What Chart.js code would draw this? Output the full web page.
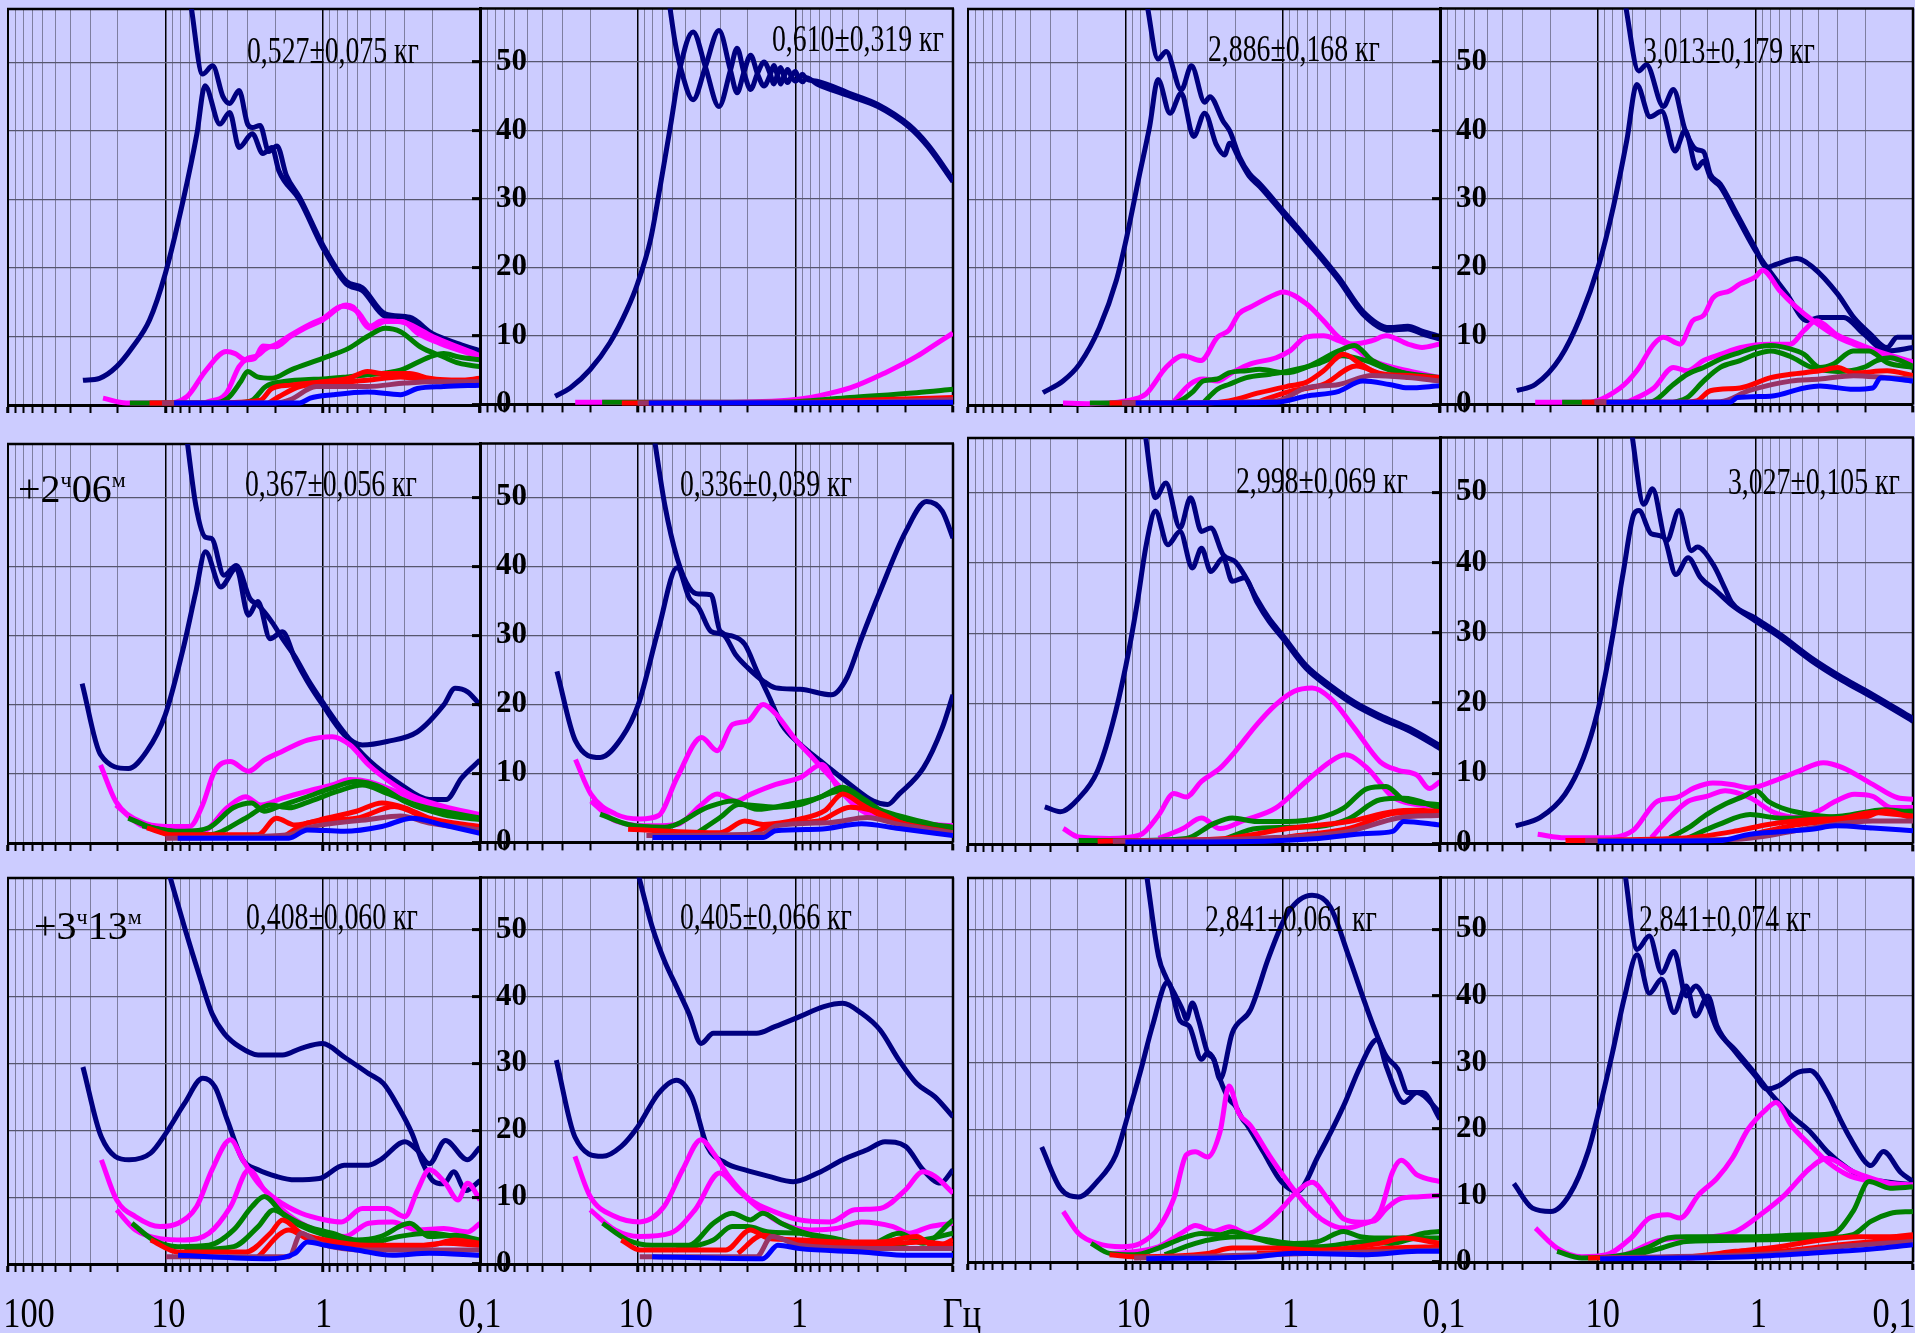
<!DOCTYPE html>
<html><head><meta charset="utf-8">
<script src="https://cdn.jsdelivr.net/npm/chart.js@4.4.0/dist/chart.umd.min.js"></script>
<style>
html,body{margin:0;padding:0;background:#CCCCFF;width:1915px;height:1333px;overflow:hidden;position:relative;}
.panel{position:absolute;}
.ann{position:absolute;font-family:'Liberation Serif','Times New Roman',serif;font-size:38px;line-height:1;color:#000;white-space:nowrap;transform-origin:0 0;transform:scaleX(0.73);}
.tag{position:absolute;font-family:'Liberation Serif','Times New Roman',serif;font-size:40px;line-height:1;color:#000;white-space:nowrap;}
.tag sup{font-size:0.55em;vertical-align:0.7em;}
</style></head><body>
<script>
// ---------- axis values ----------
const xTickValues = [0.1,0.2,0.3,0.4,0.5,0.6,0.7,0.8,0.9,1,2,3,4,5,6,7,8,9,10,20,30,40,50,60,70,80,90,100];
const yTickValues = [0,10,20,30,40,50];
const xLabelValues = [100,10,1,0.1];
const xLabels_r3c1 = ['100','10','1','0,1'];
const xLabels_r3c2 = ['','10','1','Гц'];
const xLabels_r3c3 = ['','10','1','0,1'];
const xLabels_r3c4 = ['','10','1','0,1'];
const annotations = ['0,527±0,075 кг','0,610±0,319 кг','2,886±0,168 кг','3,013±0,179 кг',
                     '0,367±0,056 кг','0,336±0,039 кг','2,998±0,069 кг','3,027±0,105 кг',
                     '0,408±0,060 кг','0,405±0,066 кг','2,841±0,061 кг','2,841±0,074 кг'];

// ---------- series: [frequency Hz, value] ----------
// row 1, col 1
const r1c1_nvA=[[33.4,3.6],[26.2,3.9],[20.4,5.6],[16.1,8.5],[12.6,12.4],[10,19.2],[7.7,29.9],[6.3,39.6],[5.6,46.6],[4.5,41],[3.9,42.7],[3.4,37.6],[2.8,39.6],[2.4,36.7],[2.1,37.6],[1.9,34.2],[1.4,29.9],[1.0,23],[0.71,17.7],[0.56,16.7],[0.4,12.9],[0.28,12.4],[0.2,10],[0.135,8.5],[0.1,7.5]];
const r1c1_nvB=[[6.9,58.6],[5.8,48.3],[5.0,49.5],[4.3,45],[3.9,44],[3.4,45.9],[3.0,41],[2.8,40.5],[2.5,40.8],[2.2,37],[1.95,37.8],[1.7,33.5],[1.4,30.3],[1.0,23.4],[0.71,18.1],[0.56,17.1],[0.4,13.3],[0.28,12.8],[0.2,10.4],[0.135,8.9],[0.1,7.9]];
const r1c1_mgA=[[24.9,1.0],[17.7,0.3],[10,0.3],[7.3,1.2],[5.5,5.1],[4.1,7.8],[3.6,7.5],[3.1,6.6],[2.7,6.8],[2.4,8.6],[2.0,8.5],[1.6,10],[1.3,11.2],[1.0,12.4],[0.71,14.6],[0.64,14.3],[0.5,11.2],[0.4,12.2],[0.31,12.2],[0.25,10.5],[0.18,9.0],[0.1,7.0]];
const r1c1_mgB=[[5.5,0.4],[4.1,1.7],[3.4,5.6],[3.0,6.8],[2.6,7.2],[2.3,8.2],[2.0,8.8],[1.6,10.2],[1.2,11.8],[1.0,12.6],[0.75,14.4],[0.6,13.6],[0.5,11.5],[0.42,12.3],[0.3,12],[0.2,10],[0.1,7.2]];
const r1c1_grA=[[16.8,0.3],[5,0.3],[4,1],[3.3,3.5],[3.0,4.9],[2.6,4.1],[2.1,3.9],[1.6,5.1],[1.0,6.8],[0.68,8.3],[0.52,10],[0.4,11.2],[0.32,10.7],[0.24,8.5],[0.17,7],[0.136,6.1],[0.1,5.6]];
const r1c1_grB=[[3.5,0.3],[2.8,0.7],[2.3,2.7],[1.8,3.4],[1.3,3.7],[1.0,3.8],[0.7,4.1],[0.52,4.4],[0.32,5.1],[0.21,7],[0.17,7.5],[0.136,7],[0.1,6.6]];
const r1c1_rdA=[[12.6,0.3],[5,0.3],[2.5,0.7],[2.1,2.4],[1.6,2.9],[1.0,3.4],[0.68,3.9],[0.52,4.9],[0.42,4.6],[0.28,4.6],[0.21,3.9],[0.135,3.6],[0.1,3.9]];
const r1c1_rdB=[[2.2,0.3],[1.9,1.2],[1.4,2.7],[0.86,3.2],[0.52,3.6],[0.32,4.1],[0.2,3.6],[0.1,3.6]];
const r1c1_mv=[[10.5,0.3],[2,0.3],[1.6,0.8],[1.1,2.7],[0.52,2.7],[0.3,3.2],[0.2,3.4],[0.1,3.4]];
const r1c1_bl=[[8.8,0.3],[1.4,0.3],[1.2,1],[0.86,1.5],[0.52,1.9],[0.32,1.5],[0.25,2.4],[0.17,2.7],[0.1,2.9]];
// row 1, col 2
const r1c2_nvA=[[33.4,1.2],[26.8,2.4],[20,5.1],[15,9],[11.7,13.8],[10,17.7],[8.3,24],[7.2,31.8],[6.2,40.6],[5.36,49.3],[4.45,54.4],[3.72,49.3],[3.05,43.5],[2.58,48.8],[2.34,52],[2.12,48.5],[1.92,46],[1.74,48.3],[1.58,50],[1.44,48.2],[1.37,46.8],[1.3,48.1],[1.24,49.2],[1.18,47.9],[1.12,47],[1.06,47.9],[1.0,48.6],[0.95,47.6],[0.9,47.1],[0.85,47.7],[0.73,46.8],[0.45,45],[0.3,43.5],[0.19,40.5],[0.144,37.6],[0.1,32.5]];
const r1c2_nvB=[[6.3,58.6],[5.8,53],[5.36,49.3],[4.45,44.5],[3.72,49.3],[3.05,54.6],[2.58,48.8],[2.34,45.5],[2.12,48.5],[1.92,51],[1.74,48.3],[1.58,46.5],[1.44,48.2],[1.37,49.5],[1.3,48.1],[1.24,46.8],[1.18,47.9],[1.12,48.9],[1.06,47.9],[1.0,47.2],[0.95,47.6],[0.9,48.2],[0.85,47.5],[0.73,47.2],[0.45,45.4],[0.3,43.8],[0.19,40.8],[0.144,37.9],[0.1,32.8]];
const r1c2_mgA=[[24.9,0.3],[10,0.3],[3,0.3],[1,0.7],[0.73,1.2],[0.45,2.4],[0.27,4.6],[0.17,7],[0.125,9],[0.1,10.4]];
const r1c2_grA=[[16.8,0.3],[2,0.3],[1,0.4],[0.45,1],[0.17,1.7],[0.1,2.2]];
const r1c2_rdA=[[12.6,0.2],[1,0.3],[0.27,0.7],[0.1,1]];
const r1c2_mv=[[10,0.2],[0.3,0.4],[0.1,0.7]];
const r1c2_bl=[[8.5,0.2],[0.1,0.3]];
// row 1, col 3
const r1c3_nvA=[[33.4,1.8],[24.9,3.5],[19.5,6],[14.6,11.3],[11.4,18.2],[10,23.6],[8.1,33.8],[7.0,40.7],[6.2,47.5],[5.2,42.6],[4.41,45.5],[3.68,39.2],[3.13,42.6],[2.64,38],[2.34,36.5],[2.17,38.2],[1.88,35.8],[1.62,33.3],[1.4,31.9],[1.0,28],[0.71,24],[0.44,18.2],[0.31,13.3],[0.21,10.9],[0.16,11.1],[0.13,10.4],[0.1,9.6]];
const r1c3_nvB=[[7.3,58.6],[6.2,50.5],[5.5,51.6],[4.41,46],[3.8,49.5],[3.13,44.2],[2.9,45],[2.4,41.5],[2.17,40],[1.88,36.2],[1.62,33.7],[1.4,32.3],[1.0,28.4],[0.71,24.4],[0.44,18.6],[0.31,13.7],[0.21,11.3],[0.16,11.5],[0.13,10.8],[0.1,10]];
const r1c3_mgA=[[24.9,0.3],[16.8,0.2],[10,0.6],[7.4,1.6],[5.5,5.5],[4.3,7.2],[3.3,6.5],[2.6,9.9],[2.2,10.9],[1.9,13.3],[1.6,14.3],[1.1,16.2],[1.0,16.5],[0.71,14.8],[0.55,12.3],[0.44,9.9],[0.36,8.9],[0.27,9.4],[0.22,10.1],[0.16,8.9],[0.13,8.4],[0.1,8.9]];
const r1c3_mgB=[[5.0,0.3],[3.9,3],[3.2,3.8],[2.6,3.5],[2.1,4.7],[1.6,6],[1.1,6.9],[0.9,7.9],[0.71,9.9],[0.55,10.1],[0.44,9.4],[0.36,8.5],[0.27,6.5],[0.16,5],[0.1,4]];
const r1c3_grA=[[16.8,0.3],[5,0.3],[4.5,0.6],[3.7,2],[3.2,3.5],[2.6,3.8],[2.2,4.7],[1.7,5],[1.4,5.2],[0.95,4.7],[0.71,5.5],[0.44,7.9],[0.35,8.7],[0.27,6.5],[0.16,4.5],[0.1,3.8]];
const r1c3_grB=[[3.2,0.3],[2.6,2.3],[2.2,3],[1.7,4],[1.2,4.5],[0.9,5],[0.6,6],[0.42,7.2],[0.3,6.5],[0.2,5],[0.1,4]];
const r1c3_rdA=[[12.6,0.3],[3,0.3],[2.2,0.6],[1.4,1.8],[0.9,2.8],[0.71,3.3],[0.55,5],[0.41,7.4],[0.32,6],[0.24,4.5],[0.16,4.3],[0.1,3.8]];
const r1c3_rdB=[[1.5,0.3],[0.9,2],[0.55,3],[0.34,5.7],[0.24,4.6],[0.1,4]];
const r1c3_mv=[[10.5,0.3],[1.1,0.6],[0.71,2.5],[0.44,3],[0.27,4.3],[0.16,4],[0.1,3.5]];
const r1c3_bl=[[8.6,0.3],[1.1,0.4],[0.71,1.3],[0.44,2],[0.31,3.5],[0.21,3],[0.16,2.5],[0.1,2.8]];
// row 1, col 4
const r1c4_nvA=[[32.6,2],[24.9,2.9],[17.3,6.8],[12.9,12.7],[9.8,20.5],[7.94,28.9],[6.53,38.6],[5.65,46.7],[4.65,42],[3.92,42.8],[3.23,37],[2.79,40],[2.35,34.5],[2.13,35.5],[1.93,33.2],[1.67,31.8],[1.31,27.4],[1.0,22.5],[0.63,16.1],[0.47,12.2],[0.39,12.7],[0.275,12.7],[0.206,10.3],[0.146,7.8],[0.1,8.3]];
const r1c4_nvB=[[6.7,58.6],[5.5,48.7],[4.9,49.6],[3.83,43.5],[3.31,46],[2.79,40.1],[2.35,37.2],[2.13,36.9],[1.93,33.6],[1.67,32.2],[1.31,27.8],[1.0,22.8],[0.845,20],[0.73,20.5],[0.545,21.3],[0.43,20],[0.3,16.1],[0.238,12.7],[0.187,10.3],[0.146,8.3],[0.126,9.8],[0.1,9.8]];
const r1c4_mgA=[[24.9,0.3],[11.7,0.3],[7.2,2.4],[5.65,4.9],[4.4,8.8],[3.83,9.8],[3.0,8.8],[2.5,12.2],[2.13,13],[1.85,15.6],[1.45,16.6],[1.25,17.6],[1.0,18.6],[0.9,19.6],[0.7,16.6],[0.55,14.2],[0.43,12.2],[0.3,9.8],[0.238,8.8],[0.16,7.3],[0.1,5.9]];
const r1c4_mgB=[[6.5,0.3],[4.4,2.4],[3.31,5.4],[2.7,4.9],[2.13,6.4],[1.67,7.3],[1.25,8.3],[0.8,8.8],[0.6,8.8],[0.49,10.8],[0.41,12.2],[0.3,10.1],[0.238,9.1],[0.16,7.6],[0.1,6.2]];
const r1c4_grA=[[16.8,0.3],[5,0.3],[4.4,0.5],[3.31,2.9],[2.7,4.4],[2.13,5.4],[1.67,6.6],[1.25,7.6],[1.0,8.3],[0.8,8.6],[0.6,8.1],[0.49,7.3],[0.39,5.4],[0.32,5.9],[0.24,7.8],[0.19,7.8],[0.146,6.1],[0.1,5.4]];
const r1c4_grB=[[3.3,0.3],[2.7,1],[2.13,3.4],[1.67,5.4],[1.25,6.4],[1.0,7.3],[0.8,7.8],[0.6,7],[0.45,5.5],[0.3,4.8],[0.2,5.5],[0.17,6.4],[0.14,6.8],[0.1,5.6]];
const r1c4_rdA=[[12.6,0.3],[3,0.3],[2.35,0.5],[1.93,2],[1.25,2.4],[0.8,3.9],[0.6,4.4],[0.39,4.9],[0.3,5.4],[0.238,4.6],[0.146,4.9],[0.1,4.2]];
const r1c4_mv=[[10.5,0.3],[1.67,0.4],[1.1,2],[0.6,3.4],[0.39,3.7],[0.238,4.2],[0.146,3.9],[0.1,3.7]];
const r1c4_bl=[[8.8,0.3],[1.45,0.3],[1.3,1],[0.8,1.2],[0.49,2.4],[0.39,2.7],[0.238,2.2],[0.18,2.4],[0.16,3.9],[0.1,3.4]];
// row 2, col 1
const r2c1_nvA=[[33.8,23.1],[25.8,12.8],[17.2,10.8],[13.1,13.3],[10,18.6],[7.6,28.7],[6.4,36.4],[5.56,42.2],[4.44,37.1],[3.54,39.8],[2.96,33],[2.58,35],[2.16,29.6],[1.8,30.6],[1.5,26.7],[1.25,23.4],[1.0,20],[0.73,15.7],[0.56,14.2],[0.39,14.7],[0.25,16.1],[0.17,20],[0.144,22.4],[0.12,21.9],[0.1,20]];
const r2c1_nvB=[[7.3,58.6],[6.4,48.9],[5.56,44.3],[5.08,44.1],[4.24,38.8],[3.54,40.2],[2.9,35.4],[2.58,34.5],[2.1,32],[1.8,29.6],[1.5,27],[1.25,23.8],[1.0,20.4],[0.73,16],[0.51,12],[0.32,8.5],[0.21,6.3],[0.164,6.3],[0.131,9.4],[0.1,12]];
const r2c1_mgA=[[25.8,11.3],[20.6,6],[14.4,3.1],[10,2.4],[7.0,2.4],[5.8,5.5],[4.86,10.4],[3.87,11.8],[2.96,10.4],[2.36,12],[1.8,13.3],[1.25,14.9],[0.87,15.4],[0.67,14.2],[0.51,11.3],[0.35,8.4],[0.25,6.5],[0.17,5.3],[0.1,4.1]];
const r2c1_mgB=[[20.6,5.5],[14.4,2.6],[10,1.9],[5.8,1.7],[4.05,5.1],[3.09,6.7],[2.47,5.5],[1.8,6.5],[1.25,7.5],[0.87,8.4],[0.67,9.2],[0.51,8.9],[0.32,7.2],[0.21,5.5],[0.1,3.9]];
const r2c1_grA=[[17.2,3.6],[12,2.2],[7.6,1.7],[5.3,2.2],[3.7,5.1],[2.83,5.8],[2.36,4.6],[1.8,5.5],[1.25,6.7],[0.87,8],[0.61,8.9],[0.42,8],[0.3,6],[0.17,4.1],[0.1,3.4]];
const r2c1_grB=[[14,2.5],[8,1.5],[5.3,1.2],[3.09,3.6],[2.16,5.5],[1.64,5.1],[1.25,5.9],[0.8,7.5],[0.56,8.4],[0.39,7.2],[0.25,5.5],[0.1,3.6]];
const r2c1_rdA=[[13.1,2.2],[9.1,1.2],[2.58,1.2],[1.97,3.6],[1.5,2.6],[0.95,3.6],[0.61,4.6],[0.42,5.8],[0.3,5.1],[0.21,3.6],[0.1,2.4]];
const r2c1_rdB=[[1.8,0.8],[1.25,2.9],[0.61,3.6],[0.35,5.3],[0.21,3.4],[0.1,2.2]];
const r2c1_mv=[[10,0.7],[1.64,1.2],[1.25,2.2],[0.51,3.4],[0.32,3.9],[0.21,2.9],[0.1,1.9]];
const r2c1_bl=[[8.35,0.7],[1.64,0.7],[1.25,1.9],[0.73,1.7],[0.42,2.4],[0.27,3.6],[0.17,2.6],[0.1,1.4]];
// row 2, col 2
const r2c2_nvA=[[32.5,24.8],[24.8,14.7],[17.3,12.3],[12.6,15.2],[9.9,20],[7.36,31],[5.62,39.8],[4.7,35.4],[4.1,34],[3.43,30.6],[2.86,30.1],[2.39,27.2],[2.0,25.3],[1.6,23.4],[1.33,22.4],[0.93,22.2],[0.59,21.4],[0.47,23.9],[0.38,29.6],[0.29,36.4],[0.2,45],[0.147,49.4],[0.117,48],[0.1,44.1]];
const r2c2_nvB=[[7.85,58.6],[6.73,48.9],[5.62,41.2],[4.7,36.9],[4.1,36],[3.43,35.9],[3.0,30.6],[2.5,29.9],[2.09,28.7],[1.75,24.8],[1.46,21],[1.22,17.1],[0.93,14.2],[0.65,11.3],[0.45,8.4],[0.32,6],[0.26,5.5],[0.22,7],[0.154,10.8],[0.117,16.6],[0.1,21.4]];
const r2c2_mgA=[[24.8,12],[19.8,7],[13.8,4.1],[9.65,3.4],[7.36,3.9],[5.62,9.4],[3.93,15.2],[3.13,13.3],[2.5,17.1],[2.0,17.6],[1.6,20],[1.33,18.6],[1.02,15.2],[0.78,12.3],[0.54,8.4],[0.38,5.1],[0.24,3.1],[0.154,2.7],[0.1,2.4]];
const r2c2_mgB=[[19.8,6],[13.8,3.1],[8.05,2.4],[5.62,2.6],[3.93,5.5],[3.13,7],[2.39,6],[1.91,7],[1.33,8.4],[0.93,9.4],[0.68,11.3],[0.54,8],[0.38,4.6],[0.22,2.9],[0.1,2.4]];
const r2c2_grA=[[17.3,4.1],[11.5,2.6],[6.73,2.2],[3.59,5.1],[2.5,6],[1.75,4.8],[1.11,5.5],[0.71,6.5],[0.5,8],[0.38,6.5],[0.24,3.6],[0.1,2.2]];
const r2c2_grB=[[4.3,1.2],[3.0,3.6],[2.29,5.5],[1.33,5.1],[0.93,5.5],[0.5,7.5],[0.32,5.1],[0.1,1.9]];
const r2c2_rdA=[[11.5,1.9],[3.0,1.4],[2.09,3.1],[1.6,2.6],[0.93,3.4],[0.65,4.6],[0.5,7],[0.38,5.5],[0.26,3.4],[0.1,1.4]];
const r2c2_rdB=[[1.91,1.2],[1.33,2.6],[0.71,3.1],[0.45,5.1],[0.32,4.6],[0.2,2.6],[0.1,1.2]];
const r2c2_mv=[[8.8,1],[1.6,1.2],[1.33,2.4],[0.59,2.9],[0.35,3.6],[0.22,2.6],[0.1,1.4]];
const r2c2_bl=[[8.05,0.7],[1.6,0.7],[1.33,1.7],[0.71,1.9],[0.38,2.7],[0.22,2],[0.1,1]];
// row 2, col 3
const r2c3_nvA=[[32.5,5.3],[25.9,4.6],[19.8,6.5],[15.1,10.3],[12.1,17],[9.9,25.5],[8.43,34.1],[7.36,42.6],[6.44,47.4],[5.37,42.6],[4.49,44.5],[3.75,39.3],[3.28,42.1],[2.86,38.8],[2.39,40.7],[2.09,37.4],[1.75,37.9],[1.46,34.5],[1.22,31.7],[1.0,29.3],[0.71,25],[0.5,22.2],[0.35,19.8],[0.24,17.9],[0.154,16],[0.1,13.6]];
const r2c3_nvB=[[7.5,58.6],[6.44,49.3],[5.52,51.4],[4.49,45],[3.85,49.3],[3.28,44.5],[2.86,45],[2.39,41.2],[2.0,40.2],[1.75,38.3],[1.46,34.9],[1.22,32.1],[1.0,29.7],[0.71,25.4],[0.5,22.6],[0.35,20.2],[0.24,18.3],[0.154,16.4],[0.1,14]];
const r2c3_mgA=[[24.8,2.2],[19.8,1],[12.6,0.8],[8.05,1.3],[6.15,4.1],[4.91,7.2],[4.1,6.7],[3.28,8.9],[2.5,10.8],[2.0,13.2],[1.46,17],[1.11,19.8],[0.85,21.7],[0.65,22.2],[0.5,20.8],[0.35,16.5],[0.24,11.7],[0.185,10.5],[0.14,9.8],[0.117,7.9],[0.1,8.9]];
const r2c3_mgB=[[6.15,0.8],[4.3,2.2],[3.28,3.7],[2.5,2.2],[1.75,3.4],[1.11,5.1],[0.71,8.9],[0.5,11.7],[0.4,12.7],[0.29,10.8],[0.2,6.7],[0.14,5.6],[0.1,5.3]];
const r2c3_grA=[[19.8,0.5],[10,0.5],[4.1,0.8],[2.74,2.9],[2.09,3.7],[1.46,3.2],[0.93,3.2],[0.59,3.7],[0.41,5.1],[0.29,7.9],[0.22,8.2],[0.17,6.3],[0.1,5.6]];
const r2c3_grB=[[2.29,0.8],[1.46,2.2],[0.59,2.5],[0.38,3.6],[0.24,6.3],[0.17,6.5],[0.1,5.1]];
const r2c3_rdA=[[15,0.4],[2.29,0.8],[0.93,2.2],[0.38,3.2],[0.2,4.6],[0.14,4.8],[0.1,4.6]];
const r2c3_rdB=[[0.93,1],[0.38,2.2],[0.185,4.4],[0.1,4.4]];
const r2c3_mv=[[12,0.4],[1.46,0.8],[0.38,1.8],[0.185,3.7],[0.1,4.1]];
const r2c3_bl=[[10,0.3],[3.0,0.3],[0.59,0.8],[0.29,1.5],[0.2,1.8],[0.17,3.2],[0.1,2.7]];
// row 2, col 4
const r2c4_nvA=[[33.1,2.5],[23.1,3.7],[16.1,7],[12.3,12.2],[10.1,18.4],[8.2,28.4],[6.86,38.8],[5.89,46.9],[5.47,47.4],[4.57,44.1],[3.82,43.6],[3.19,38.3],[2.67,40.7],[2.23,37.9],[1.78,36],[1.42,34],[1.0,31.7],[0.69,29.3],[0.44,26],[0.28,23.2],[0.18,20.8],[0.1,17.4]];
const r2c4_nvB=[[6.1,58.6],[5.1,48.3],[4.49,50.5],[3.65,43.1],[3.05,47.4],[2.55,41.7],[2.33,42.2],[1.86,39.8],[1.55,36.2],[1.42,34.4],[1.0,32.1],[0.69,29.7],[0.44,26.4],[0.28,23.6],[0.18,21.2],[0.1,17.8]];
const r2c4_mgA=[[24,1.3],[16.1,0.8],[9.4,0.8],[6.0,1.8],[4.18,6],[3.19,6.5],[2.44,7.9],[1.86,8.6],[1.42,8.4],[1.08,7.9],[0.76,8.9],[0.53,10.3],[0.37,11.5],[0.28,10.8],[0.18,8.4],[0.125,6.5],[0.1,6.3]];
const r2c4_mgB=[[4.57,0.8],[3.49,3.7],[2.67,6],[2.04,6.7],[1.55,7.5],[1.08,6.5],[0.76,4.4],[0.53,3.7],[0.4,4.6],[0.31,6],[0.235,7],[0.18,6.7],[0.137,5.1],[0.1,5.1]];
const r2c4_grA=[[3.49,0.8],[2.67,2.2],[2.04,4.1],[1.55,5.6],[1.19,6.7],[0.99,7.5],[0.83,6],[0.63,4.8],[0.44,4.1],[0.28,3.7],[0.18,4.4],[0.1,4.6]];
const r2c4_grB=[[2.67,0.8],[1.7,2.7],[1.08,4.1],[0.69,3.6],[0.28,3.9],[0.15,4.8],[0.1,4.4]];
const r2c4_rdA=[[16,0.4],[2.67,0.8],[1.3,1.8],[0.83,2.7],[0.44,3.4],[0.28,3.6],[0.18,4.4],[0.137,4.2],[0.1,3.9]];
const r2c4_rdB=[[1.3,0.8],[0.53,2.7],[0.21,3.6],[0.15,4.6],[0.1,3.6]];
const r2c4_mv=[[12,0.4],[1.3,0.6],[0.44,2.2],[0.18,3.2],[0.1,3.2]];
const r2c4_bl=[[10,0.3],[1.7,0.4],[1.08,1.3],[0.44,2],[0.31,2.5],[0.18,2.2],[0.1,1.8]];
// row 3, col 1
const r3c1_nvU=[[9.5,58.6],[7.57,50.5],[6.04,43],[5.05,37.5],[4.22,34.5],[3.37,32.5],[2.57,31.3],[1.8,31.3],[1.37,32.3],[1.0,33],[0.73,31],[0.51,28.5],[0.41,27],[0.33,23.5],[0.27,19.5],[0.23,15],[0.2,12.5],[0.17,12],[0.147,13.8],[0.123,11],[0.1,12.5]];
const r3c1_nvL=[[33.4,29.5],[25.5,19],[17,15.6],[12.4,16.6],[9.9,19.6],[7.57,24],[5.78,27.8],[4.83,26.5],[4.03,21.5],[3.22,15.6],[2.57,14.1],[1.96,13.1],[1.5,12.6],[1.05,12.8],[0.73,14.8],[0.51,14.8],[0.43,15.6],[0.3,18.3],[0.25,17],[0.21,15],[0.166,18.5],[0.12,15.6],[0.1,17.5]];
const r3c1_mgA=[[25.5,15.6],[20.4,9.6],[15.5,7.1],[10.8,5.6],[8.3,6.1],[6.32,8.6],[5.05,14.1],[3.85,18.6],[3.22,15.6],[2.57,12.1],[1.96,9.6],[1.37,7.6],[0.96,6.6],[0.76,6.3],[0.56,8.3],[0.39,8.3],[0.3,7.1],[0.25,11],[0.21,14.1],[0.166,12.1],[0.138,9.6],[0.12,12.1],[0.1,9.6]];
const r3c1_mgB=[[20.4,8.1],[15.5,5.1],[10.8,3.8],[7.57,3.6],[5.28,4.6],[3.85,8.6],[2.94,14.1],[2.35,11.1],[1.8,8.1],[1.25,5.6],[0.73,4.1],[0.51,6.1],[0.36,6.3],[0.25,5.1],[0.17,5.3],[0.12,4.8],[0.1,6.1]];
const r3c1_grA=[[16.3,6.1],[11.9,3.6],[8.3,2.6],[5.28,2.8],[3.68,5.1],[2.81,8.6],[2.35,10.1],[1.8,7.6],[1.25,5.6],[0.87,4.6],[0.61,3.6],[0.43,4.1],[0.28,6.1],[0.21,4.1],[0.145,4.3],[0.1,3.6]];
const r3c1_grB=[[7.57,2.1],[3.68,2.6],[2.57,5.6],[2.05,8.1],[1.5,6.1],[0.96,4.3],[0.51,3.1],[0.33,4.1],[0.21,4.6],[0.1,3.4]];
const r3c1_rdA=[[12.4,3.6],[8.3,1.8],[3.08,1.8],[2.15,4.6],[1.8,6.6],[1.37,4.6],[0.96,3.6],[0.51,2.8],[0.21,2.8],[0.145,3.6],[0.1,3.1]];
const r3c1_rdB=[[2.57,1.1],[1.64,5.1],[1.25,3.8],[0.73,2.8],[0.33,2.3],[0.17,3.1],[0.1,2.8]];
const r3c1_mv=[[9.9,1.1],[1.64,1.1],[1.37,4.6],[1.05,3.1],[0.51,2.1],[0.1,2.1]];
const r3c1_bl=[[8.3,1.3],[2.15,0.8],[1.5,1.6],[1.25,3.3],[0.96,2.8],[0.61,2.1],[0.36,1.3],[0.21,1.6],[0.1,1.3]];
// row 3, col 2
const r3c2_nvU=[[10,58.6],[8.1,50.5],[6.8,45.5],[5.68,41.5],[4.74,37.5],[3.96,33],[3.31,34.5],[2.52,34.5],[1.76,34.5],[1.35,35.5],[0.94,37],[0.66,38.5],[0.5,39],[0.38,37.5],[0.29,35],[0.22,30.5],[0.17,27],[0.13,25],[0.1,22]];
const r3c2_nvL=[[32.8,30.5],[25,19],[16.7,16.1],[12.7,17.6],[10,20.5],[7.4,25.5],[5.68,27.5],[4.53,25],[3.62,17.6],[2.76,15.1],[2.11,14.1],[1.47,13.1],[1.03,12.3],[0.72,13.6],[0.5,15.6],[0.35,17.1],[0.27,18.3],[0.2,17.6],[0.155,14.1],[0.12,12.1],[0.1,14.1]];
const r3c2_mgA=[[25,16.1],[20,10.1],[13.9,7.1],[9.7,6.3],[6.8,8.6],[5.19,14.1],[3.96,18.6],[3.31,16.6],[2.64,13.1],[1.93,9.6],[1.35,7.8],[0.94,6.6],[0.6,6.3],[0.42,8.1],[0.29,8.3],[0.2,11.1],[0.155,13.8],[0.13,13.1],[0.1,10.6]];
const r3c2_mgB=[[20,8.1],[13.9,5.1],[9.7,4.1],[6.2,4.6],[4.33,8.1],[3.02,13.6],[2.31,11.1],[1.76,8.6],[1.23,6.1],[0.79,5.1],[0.55,5.3],[0.38,6.3],[0.24,5.6],[0.19,4.6],[0.14,5.6],[0.1,6.1]];
const r3c2_grA=[[16.7,6.1],[11.6,3.6],[8.1,2.8],[4.74,2.8],[3.31,6.1],[2.52,7.6],[1.93,6.6],[1.61,7.6],[1.23,6.1],[0.86,4.6],[0.55,3.8],[0.35,2.8],[0.22,4.6],[0.155,3.1],[0.1,6.6]];
const r3c2_grB=[[5.68,2.1],[3.31,3.6],[2.52,5.6],[2.02,5.6],[1.47,4.8],[0.94,4.6],[0.6,3.6],[0.3,2.6],[0.155,3.6],[0.1,4.6]];
const r3c2_rdA=[[12.7,3.6],[9.7,2.1],[2.76,2.1],[1.93,5.1],[1.47,3.8],[0.94,3.6],[0.5,3.3],[0.29,3.3],[0.17,4.1],[0.13,2.6],[0.1,3.6]];
const r3c2_rdB=[[2.31,1.6],[1.61,4.3],[1.12,3.6],[0.38,2.8],[0.155,3.3],[0.1,2.8]];
const r3c2_mv=[[9.7,1.1],[1.76,1.1],[1.41,4.1],[0.94,2.8],[0.27,2.3],[0.1,2.3]];
const r3c2_bl=[[8.1,1.1],[1.61,0.8],[1.29,2.8],[0.94,2.3],[0.38,1.8],[0.19,1.3],[0.1,1.3]];
// row 3, col 3
const r3c3_nvP=[[34,17.3],[25.9,11.1],[19.8,9.8],[15.1,12.1],[11.5,16.1],[9.65,22],[8.05,28.5],[6.73,35.5],[5.37,42.2],[4.49,36.3],[3.93,35.5],[3.28,30.5],[3.0,31.5],[2.74,30.5],[2.5,27.5],[2.09,34.5],[1.6,38],[1.22,46],[0.93,52.5],[0.65,55.2],[0.5,53.5],[0.38,46],[0.3,39],[0.26,35],[0.22,31],[0.185,29],[0.16,25.5],[0.129,25.5],[0.1,21.5]];
const r3c3_nvQ=[[7.36,58.6],[6.15,46],[5.5,42.8],[4.9,40.5],[4.3,37.8],[4.1,36.5],[3.75,39],[3.43,36.5],[3.0,31.5],[2.74,30.5],[2.5,27.5],[2.19,24.5],[2.0,23.5],[1.8,21.5],[1.67,20.5],[1.33,16.6],[1.02,12.1],[0.81,10.6],[0.59,16.1],[0.41,23.5],[0.32,29.5],[0.25,33.5],[0.22,29.5],[0.17,24],[0.14,25.5],[0.1,22.5]];
const r3c3_mgA=[[24.8,7.6],[19.8,4.3],[15.1,2.8],[10.5,2.3],[8.05,2.8],[6.15,5.1],[4.91,9.6],[4.1,16.1],[3.59,16.6],[3.0,15.8],[2.5,19.6],[2.19,26.5],[1.91,22.5],[1.6,20.5],[1.22,16.1],[0.93,12.1],[0.71,8.6],[0.54,6.1],[0.41,5.1],[0.32,5.6],[0.24,7.6],[0.2,13.6],[0.176,15.3],[0.14,13.1],[0.1,12.1]];
const r3c3_mgB=[[12.6,1.2],[6.15,2.3],[4.3,4.5],[3.59,5.5],[2.74,4.6],[2.19,5.3],[1.67,4.3],[1.33,5.5],[1.02,8],[0.81,10.6],[0.65,12],[0.5,9],[0.41,6.5],[0.32,6],[0.26,6.2],[0.22,8],[0.18,9.5],[0.14,9.8],[0.1,10]];
const r3c3_grA=[[16.5,2.8],[12.6,1.3],[8.8,1.1],[6.15,2.1],[4.3,3.6],[3.28,4.3],[2.5,4.1],[2.09,4.6],[1.6,3.8],[1.22,3.3],[0.85,2.8],[0.59,3.1],[0.41,4.6],[0.32,3.8],[0.24,3.6],[0.17,3.6],[0.129,4.3],[0.1,4.6]];
const r3c3_grB=[[5.62,1.1],[3.59,2.8],[2.5,3.6],[1.75,3.8],[1.11,2.8],[0.59,2.3],[0.29,3.1],[0.2,2.8],[0.14,3.6],[0.1,3.6]];
const r3c3_rdA=[[12.6,1.1],[8.8,0.8],[3.0,1.3],[2.09,2.1],[1.22,2.1],[0.59,1.8],[0.24,2.8],[0.17,3.6],[0.1,2.8]];
const r3c3_rdB=[[1.46,1.3],[0.41,1.6],[0.2,2.1],[0.1,2.3]];
const r3c3_mv=[[8.8,0.6],[0.59,1.3],[0.1,1.8]];
const r3c3_bl=[[7.36,0.5],[1.46,0.8],[0.85,1.3],[0.29,1.1],[0.14,1.6],[0.1,1.6]];
// row 3, col 4
const r3c4_nvA=[[34,11.8],[25.9,8.1],[19.8,7.6],[15.1,10.1],[11.5,16.6],[9.65,23.5],[8.05,31.5],[6.73,40],[5.62,46.2],[4.7,40.4],[3.93,42.5],[3.28,37.5],[2.74,41.5],[2.39,37],[2.0,40],[1.75,35.5],[1.33,31.5],[1.0,28],[0.85,26],[0.71,26.5],[0.54,28.5],[0.45,28.8],[0.35,25.5],[0.29,21.5],[0.25,18.6],[0.2,15],[0.185,14.5],[0.154,16.6],[0.12,13.5],[0.1,12.1]];
const r3c4_nvB=[[6.73,58.6],[5.62,47],[4.7,49],[3.93,43.5],[3.28,46.7],[2.74,40],[2.39,41.5],[2.0,38.5],[1.75,35],[1.33,31.8],[1.0,28.3],[0.78,25],[0.59,22],[0.45,19.6],[0.35,16.6],[0.26,14.1],[0.2,12.6],[0.154,12.1],[0.1,11.6]];
const r3c4_mgA=[[24.8,5.1],[18.1,2.1],[12.6,0.8],[8.8,1.1],[6.15,3.6],[4.7,6.6],[3.59,7.1],[3.0,6.6],[2.29,10.1],[1.75,12.6],[1.4,15.6],[1.11,20],[0.85,23],[0.74,24],[0.59,20.5],[0.45,17.6],[0.35,15.1],[0.26,13.1],[0.2,12.3],[0.14,11.8],[0.1,11.6]];
const r3c4_mgB=[[9.65,0.8],[6.73,1.1],[4.3,3.1],[3.0,3.6],[1.91,3.8],[1.33,4.6],[0.93,7.1],[0.65,10.1],[0.45,14.1],[0.35,15.6],[0.24,13.6],[0.185,12.6],[0.14,11.8],[0.1,11.3]];
const r3c4_grA=[[18.1,1.6],[12.6,0.6],[6.73,1.1],[4.7,2.3],[3.59,3.6],[2.74,3.8],[1.11,3.8],[0.45,4.1],[0.32,4.3],[0.24,7.6],[0.19,12.1],[0.14,11.1],[0.1,11.3]];
const r3c4_grB=[[6.73,0.6],[3.93,2.1],[2.74,3.1],[1.11,3.3],[0.38,3.6],[0.24,4.1],[0.185,6.1],[0.14,7.3],[0.1,7.6]];
const r3c4_rdA=[[11.5,0.6],[2.74,0.8],[1.33,1.6],[0.71,2.3],[0.38,3.3],[0.22,3.8],[0.14,3.8],[0.1,4.1]];
const r3c4_rdB=[[2.74,0.6],[0.71,1.6],[0.29,2.6],[0.14,3.3],[0.1,3.6]];
const r3c4_mv=[[9.65,0.6],[0.71,1.3],[0.29,2.3],[0.1,3.1]];
const r3c4_bl=[[9.65,0.5],[1.11,0.8],[0.45,1.3],[0.29,1.6],[0.154,2.1],[0.1,2.6]];

// ---------- styling & layout ----------
const COLORS = {nv:'#000080', mg:'#FF00FF', gr:'#008000', rd:'#FF0000', mv:'#993366', bl:'#0000FF'};
const DRAW_ORDER = ['bl','mv','rd','gr','mg','nv']; // first = drawn on top

const panels = [
  {x:8,   y:9,   w:472, h:396, yl:false, right:false, ann:[247,31], series:{nv:[r1c1_nvA,r1c1_nvB],mg:[r1c1_mgA,r1c1_mgB],gr:[r1c1_grA,r1c1_grB],rd:[r1c1_rdA,r1c1_rdB],mv:[r1c1_mv],bl:[r1c1_bl]}},
  {x:480, y:9,   w:473, h:396, yl:true,  right:true,  ann:[772,19], series:{nv:[r1c2_nvA,r1c2_nvB],mg:[r1c2_mgA],gr:[r1c2_grA],rd:[r1c2_rdA],mv:[r1c2_mv],bl:[r1c2_bl]}},
  {x:968, y:9,   w:472, h:396, yl:false, right:false, ann:[1208,29], series:{nv:[r1c3_nvA,r1c3_nvB],mg:[r1c3_mgA,r1c3_mgB],gr:[r1c3_grA,r1c3_grB],rd:[r1c3_rdA,r1c3_rdB],mv:[r1c3_mv],bl:[r1c3_bl]}},
  {x:1440,y:9,   w:473, h:396, yl:true,  right:true,  ann:[1643,31], series:{nv:[r1c4_nvA,r1c4_nvB],mg:[r1c4_mgA,r1c4_mgB],gr:[r1c4_grA,r1c4_grB],rd:[r1c4_rdA],mv:[r1c4_mv],bl:[r1c4_bl]}},
  {x:8,   y:444, w:472, h:399, yl:false, right:false, ann:[245,464], series:{nv:[r2c1_nvA,r2c1_nvB],mg:[r2c1_mgA,r2c1_mgB],gr:[r2c1_grA,r2c1_grB],rd:[r2c1_rdA,r2c1_rdB],mv:[r2c1_mv],bl:[r2c1_bl]}},
  {x:480, y:444, w:473, h:399, yl:true,  right:true,  ann:[680,464], series:{nv:[r2c2_nvA,r2c2_nvB],mg:[r2c2_mgA,r2c2_mgB],gr:[r2c2_grA,r2c2_grB],rd:[r2c2_rdA,r2c2_rdB],mv:[r2c2_mv],bl:[r2c2_bl]}},
  {x:968, y:438, w:472, h:406, yl:false, right:false, ann:[1236,461], series:{nv:[r2c3_nvA,r2c3_nvB],mg:[r2c3_mgA,r2c3_mgB],gr:[r2c3_grA,r2c3_grB],rd:[r2c3_rdA,r2c3_rdB],mv:[r2c3_mv],bl:[r2c3_bl]}},
  {x:1440,y:438, w:473, h:406, yl:true,  right:true,  ann:[1728,462], series:{nv:[r2c4_nvA,r2c4_nvB],mg:[r2c4_mgA,r2c4_mgB],gr:[r2c4_grA,r2c4_grB],rd:[r2c4_rdA,r2c4_rdB],mv:[r2c4_mv],bl:[r2c4_bl]}},
  {x:8,   y:878, w:472, h:386, yl:false, right:false, ann:[246,897], xl:xLabels_r3c1, xdx:[21,3,1,0],  series:{nv:[r3c1_nvU,r3c1_nvL],mg:[r3c1_mgA,r3c1_mgB],gr:[r3c1_grA,r3c1_grB],rd:[r3c1_rdA,r3c1_rdB],mv:[r3c1_mv],bl:[r3c1_bl]}},
  {x:480, y:878, w:473, h:386, yl:true,  right:true,  ann:[680,897], xl:xLabels_r3c2, xdx:[0,-2,4,9],  series:{nv:[r3c2_nvU,r3c2_nvL],mg:[r3c2_mgA,r3c2_mgB],gr:[r3c2_grA,r3c2_grB],rd:[r3c2_rdA,r3c2_rdB],mv:[r3c2_mv],bl:[r3c2_bl]}},
  {x:968, y:878, w:472, h:384, yl:false, right:false, ann:[1205,899], xl:xLabels_r3c3, xdx:[0,8,8,4],  series:{nv:[r3c3_nvP,r3c3_nvQ],mg:[r3c3_mgA,r3c3_mgB],gr:[r3c3_grA,r3c3_grB],rd:[r3c3_rdA,r3c3_rdB],mv:[r3c3_mv],bl:[r3c3_bl]}},
  {x:1440,y:878, w:473, h:384, yl:true,  right:true,  ann:[1639,899], xl:xLabels_r3c4, xdx:[0,5,3,-19], series:{nv:[r3c4_nvA,r3c4_nvB],mg:[r3c4_mgA,r3c4_mgB],gr:[r3c4_grA,r3c4_grB],rd:[r3c4_rdA,r3c4_rdB],mv:[r3c4_mv],bl:[r3c4_bl]}}
];
const LABEL_BASELINE_Y = 1327;

function isDecade(v){ const l = Math.log10(v); return Math.abs(l - Math.round(l)) < 1e-6; }

const framePlugin = {
  id:'frame',
  beforeDatasetsDraw(chart, args, o){
    const {ctx, chartArea:a} = chart;
    ctx.save(); ctx.strokeStyle = '#000';
    ctx.lineWidth = 2.5; ctx.beginPath(); ctx.moveTo(a.left-1, a.top); ctx.lineTo(a.right+1, a.top); ctx.stroke();
    if (o.right){ ctx.lineWidth = 2.5; ctx.beginPath(); ctx.moveTo(a.right, a.top); ctx.lineTo(a.right, a.bottom); ctx.stroke(); }
    ctx.restore();
  }
};
const xLabelPlugin = {
  id:'xlabels',
  afterDraw(chart, args, o){
    if (!o.labels) return;
    const {ctx} = chart; const sx = chart.scales.x;
    ctx.save(); ctx.fillStyle = '#000'; ctx.font = '43px "Liberation Serif", "Times New Roman", serif';
    ctx.textAlign = 'center'; ctx.textBaseline = 'alphabetic';
    xLabelValues.forEach((v,i) => {
      const t = o.labels[i]; if (!t) return;
      const px = sx.getPixelForValue(v) + o.dx[i];
      ctx.save(); ctx.translate(px, chart.chartArea.bottom + o.base); ctx.scale(0.8, 1); ctx.fillText(t, 0, 0); ctx.restore();
    });
    ctx.restore();
  }
};

function config(p){
  const datasets = [];
  DRAW_ORDER.forEach(k => (p.series[k]||[]).forEach(arr => datasets.push({
    data: arr.map(([f,v]) => ({x:f, y:v})),
    borderColor: COLORS[k], backgroundColor: COLORS[k], borderWidth: 5,
    pointRadius: 0, fill: false, cubicInterpolationMode: 'monotone',
    clip: {left:0, top:0, right:0, bottom:6}
  })));
  const bottomRow = !!p.xl;
  return {
    type:'line',
    data:{datasets},
    options:{
      responsive:false, animation:false, events:[],
      layout:{padding:{left:12, right: bottomRow ? 40 : 4, top:4, bottom: bottomRow ? 80 : 4}},
      plugins:{legend:{display:false}, tooltip:{enabled:false},
        frame:{right:p.right},
        xlabels:{labels:p.xl||null, dx:p.xdx||[0,0,0,0], base: LABEL_BASELINE_Y - (p.y + p.h)}},
      scales:{
        x:{type:'logarithmic', reverse:true, min:0.1, max:100, position:'bottom',
           afterBuildTicks: s => { s.ticks = xTickValues.map(v => ({value:v})); },
           ticks:{display:false},
           grid:{drawOnChartArea:true, drawTicks:true, tickLength:8,
                 color: c => (c.tick && isDecade(c.tick.value)) ? '#000000' : '#7e7ea0',
                 lineWidth: c => (c.tick && isDecade(c.tick.value)) ? 1.5 : 1,
                 tickColor:'#000', tickWidth: c => (c.tick && isDecade(c.tick.value)) ? 3 : 2},
           border:{display:true, color:'#000', width:3}},
        y:{type:'linear', min:0, max:57.8, position:'left',
           afterBuildTicks: s => { s.ticks = yTickValues.map(v => ({value:v})); },
           ticks:{display:p.yl, mirror:true, padding:16, color:'#000',
                  font:{family:'"Liberation Serif", "Times New Roman", serif', weight:'bold', size:31},
                  callback: v => String(v)},
           grid:{drawOnChartArea:true, drawTicks:p.yl, tickLength:8, color:'#56566e', lineWidth:1.2,
                 tickColor:'#000', tickWidth:3},
           border:{display:true, color:'#000', width: p.yl ? 3 : 2}}
      }
    },
    plugins:[framePlugin, xLabelPlugin]
  };
}

function build(p){
  const div = document.createElement('div'); div.className = 'panel'; document.body.appendChild(div);
  let cv = document.createElement('canvas'); div.appendChild(cv);
  const gW = p.w + 120, gH = p.h + 160;
  cv.width = gW; cv.height = gH; cv.style.width = gW+'px'; cv.style.height = gH+'px';
  let ch = new Chart(cv, config(p));
  const a = ch.chartArea;
  const L = a.left, T = a.top, R = gW - a.right, B = gH - a.bottom;
  ch.destroy(); div.removeChild(cv);
  cv = document.createElement('canvas'); div.appendChild(cv);
  const W = Math.round(p.w + L + R), H = Math.round(p.h + T + B);
  cv.width = W; cv.height = H; cv.style.width = W+'px'; cv.style.height = H+'px';
  div.style.left = Math.round(p.x - L) + 'px'; div.style.top = Math.round(p.y - T) + 'px';
  new Chart(cv, config(p));
}

panels.forEach(build);

// annotations (HTML text)
panels.forEach((p,i) => {
  const d = document.createElement('div'); d.className = 'ann';
  d.style.left = p.ann[0] + 'px'; d.style.top = p.ann[1] + 'px';
  d.textContent = annotations[i]; document.body.appendChild(d);
});
const tags = [{html:'+2<sup>ч</sup>06<sup>м</sup>', x:18, y:469}, {html:'+3<sup>ч</sup>13<sup>м</sup>', x:34, y:906}];
tags.forEach(t => { const d = document.createElement('div'); d.className='tag'; d.style.left=t.x+'px'; d.style.top=t.y+'px'; d.innerHTML=t.html; document.body.appendChild(d); });
</script>
</body></html>
